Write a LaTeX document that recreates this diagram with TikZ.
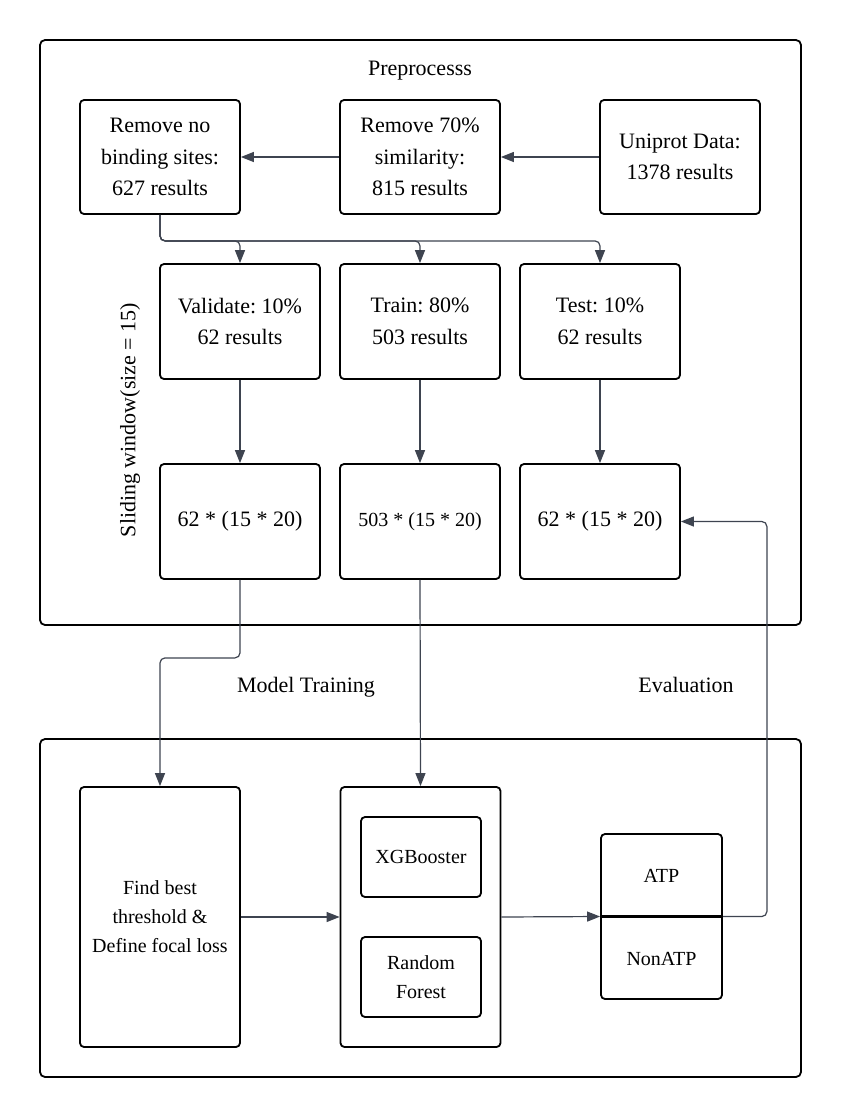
\documentclass[tikz,border=0pt]{standalone}
\usepackage{fontspec}
\setmainfont{Liberation Serif}
\frenchspacing
\usetikzlibrary{arrows.meta}
\definecolor{conncol}{RGB}{62,68,80}
\tikzset{
  x=1pt, y=-1pt,
  container/.style={draw=black, line width=1.8pt, rounded corners=5pt},
  box/.style={draw=black, line width=1.8pt, rounded corners=4pt, align=center, inner sep=0pt,
    font=\fontsize{22}{31.5}\selectfont\frenchspacing},
  smallbox/.style={box, font=\fontsize{20}{29}\selectfont\frenchspacing},
  lbl/.style={font=\fontsize{22}{31.5}\selectfont\frenchspacing, inner sep=0pt},
  conn/.style={draw=conncol, line width=1.2pt, rounded corners=5pt,
    -{Triangle[length=13pt,width=10pt]}},
  divider/.style={draw=black, line width=2.2pt}
}
\begin{document}
\begin{tikzpicture}
\useasboundingbox[fill=white] (0,0) rectangle (846,1117);
% containers
\draw[container] (40,40) rectangle (801,625);
\draw[container] (40,739) rectangle (801,1077);
% labels
\node[lbl, anchor=base] (pre) at (420,75) {Preprocesss};
\node[lbl, anchor=base] (mt) at (306,692) {Model Training};
\node[lbl, anchor=base] (ev) at (686,692) {Evaluation};
\node[lbl, rotate=90] (sw) at (130,420) {Sliding window(size = 15)};
% row 1
\node[box, minimum width=160pt, minimum height=114pt] (rnb) at (160,157) {Remove no\\binding sites:\\627 results};
\node[box, minimum width=160pt, minimum height=114pt] (r70) at (420,157) {Remove 70\%\\similarity:\\815 results};
\node[box, minimum width=160pt, minimum height=114pt] (uni) at (680,157) {Uniprot Data:\\1378 results};
% row 2
\node[box, minimum width=160pt, minimum height=115pt] (val) at (240,321.5) {Validate: 10\%\\62 results};
\node[box, minimum width=160pt, minimum height=115pt] (trn) at (420,321.5) {Train: 80\%\\503 results};
\node[box, minimum width=160pt, minimum height=115pt] (tst) at (600,321.5) {Test: 10\%\\62 results};
% row 3
\node[box, minimum width=160pt, minimum height=115pt] (v3) at (240,521.5) {62 * (15 * 20)};
\node[smallbox, minimum width=160pt, minimum height=115pt] (t3) at (420,521.5) {503 * (15 * 20)};
\node[box, minimum width=160pt, minimum height=115pt] (s3) at (600,521.5) {62 * (15 * 20)};
% bottom
\node[smallbox, minimum width=160pt, minimum height=260pt] (find) at (160,917) {Find best\\threshold \&\\Define focal loss};
\node[box, minimum width=160pt, minimum height=260pt] (mid) at (420.5,917) {};
\node[smallbox, minimum width=120pt, minimum height=80pt] (xgb) at (421,857) {XGBooster};
\node[smallbox, minimum width=120pt, minimum height=80pt] (rf) at (421,977) {Random\\Forest};
\node[box, minimum width=121pt, minimum height=165pt] (atp) at (661.5,916.5) {};
\node[lbl, font=\fontsize{20}{29}\selectfont] (atpt) at (661.5,876) {ATP};
\node[lbl, font=\fontsize{20}{29}\selectfont] (natpt) at (661.5,959) {NonATP};
% connectors
\draw[conn] (uni.west) -- (r70.east);
\draw[conn] (r70.west) -- (rnb.east);
\draw[conn] (rnb.south) -- ++(0,26) -| (val.north);
\draw[conn] (rnb.south) -- ++(0,26) -| (trn.north);
\draw[conn] (rnb.south) -- ++(0,26) -| (tst.north);
\draw[conn] (val.south) -- (v3.north);
\draw[conn] (trn.south) -- (t3.north);
\draw[conn] (tst.south) -- (s3.north);
\draw[conn] (v3.south) -- ++(0,78) -| (find.north);
\draw[conn] (t3.south) -- (mid.north);
\draw[conn] (find.east) -- (mid.west);
\draw[conn] (mid.east) -- (atp.west);
\draw[conn] (atp.east) -- ++(44,0) |- (s3.east);
% divider of the ATP / NonATP box
\draw[divider] (atp.west) -- (atp.east);
\end{tikzpicture}
\end{document}
